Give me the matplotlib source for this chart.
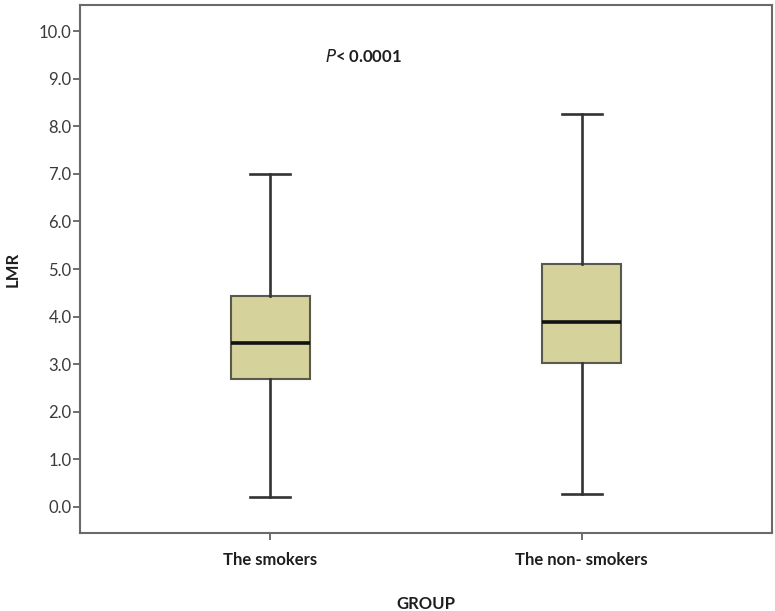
import matplotlib
matplotlib.use("Agg")
import matplotlib.pyplot as plt

plt.rcParams['font.family'] = ['Lato', 'DejaVu Sans']

# LMR summary statistics per group
groups = ["The smokers", "The non- smokers"]
whisker_low = [0.21, 0.27]
q1 = [2.69, 3.03]
median = [3.45, 3.89]
q3 = [4.43, 5.10]
whisker_high = [7.0, 8.26]
yticks = [0, 1, 2, 3, 4, 5, 6, 7, 8, 9, 10]

stats = []
for i, g in enumerate(groups):
    stats.append(dict(label=g, whislo=whisker_low[i], q1=q1[i], med=median[i],
                      q3=q3[i], whishi=whisker_high[i], fliers=[]))

fig = plt.figure(figsize=(7.75, 6.11), dpi=100)
ax = fig.add_axes([80 / 775, 78 / 611, 692 / 775, 528 / 611])

edge = "#333333"
ax.bxp(stats, positions=[1, 2], widths=0.254, capwidths=0.128, patch_artist=True,
       showfliers=False,
       boxprops=dict(facecolor="#d5d29b", edgecolor="#5a5a4a", linewidth=1.5),
       medianprops=dict(color="#111111", linewidth=2.6),
       whiskerprops=dict(color=edge, linewidth=1.9),
       capprops=dict(color=edge, linewidth=1.9))

ax.set_xlim(0.389, 2.611)
ax.set_ylim(-0.55, 10.55)
ax.set_yticks(yticks)
ax.set_yticklabels([f"{v:.1f}" for v in yticks], color="#3a3a3a", fontsize=12)
ax.set_xticks([1, 2])
ax.set_xticklabels(groups, fontsize=12, fontweight="bold", color="#1e1e1e")

for s in ax.spines.values():
    s.set_color("#6a6a6a")
    s.set_linewidth(1.5)
ax.tick_params(axis="y", direction="out", length=5, width=1.2, color="#555555", pad=1)
ax.tick_params(axis="x", direction="out", length=5, width=1.2, color="#555555", pad=9)

ax.set_ylabel("LMR", fontsize=12, fontweight="bold", color="#1e1e1e", labelpad=13)
ax.set_xlabel("GROUP", fontsize=12, fontweight="bold", color="#1e1e1e", labelpad=20)

ax.text(0.41, 0.902, r"$\bf{\it{P}}$< 0.0001", transform=ax.transAxes,
        fontsize=12, fontweight="bold", color="#1e1e1e", ha="center", va="center")

fig.savefig("out.png", dpi=100)
